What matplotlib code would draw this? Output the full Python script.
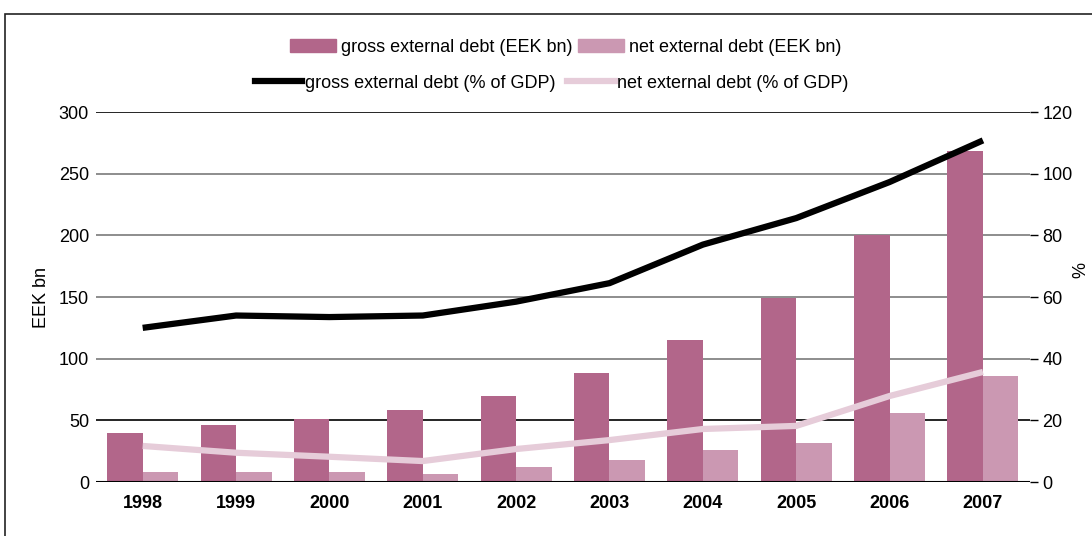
import matplotlib
matplotlib.use('Agg')
import matplotlib.pyplot as plt
import numpy as np
from matplotlib.patches import Patch, Rectangle
from matplotlib.lines import Line2D

plt.rcParams['font.family'] = ['Liberation Sans', 'DejaVu Sans']

years = ['1998', '1999', '2000', '2001', '2002', '2003', '2004', '2005', '2006', '2007']
gross_bn = [40, 46, 51, 58, 70, 88, 115, 149, 200, 268]
net_bn = [8, 8, 8, 6.5, 12, 18, 26, 32, 56, 86]
gross_pct = [50, 54, 53.5, 54, 58.5, 64.5, 77, 85.6, 97.3, 110.8]
net_pct = [11.7, 9.5, 8.2, 6.8, 10.7, 13.6, 17.2, 18.2, 27.9, 35.7]

c_gross = '#B2668A'
c_net = '#CB98B2'
c_net_line = '#E6CCD9'

fig = plt.figure(figsize=(10.92, 5.36), dpi=100)
ax = fig.add_axes([0.0879, 0.1007, 0.855, 0.6903])
ax2 = ax.twinx()

x = np.arange(len(years))
w = 0.38
ax.bar(x - w / 2, gross_bn, w, color=c_gross, zorder=2)
ax.bar(x + w / 2, net_bn, w, color=c_net, zorder=2)

ax2.plot(x, gross_pct, color='black', lw=4.5, solid_capstyle='butt')
ax2.plot(x, net_pct, color=c_net_line, lw=4.5, solid_capstyle='butt')

ax.set_xlim(-0.5, 9.5)
ax.set_ylim(0, 300)
ax2.set_ylim(0, 120)
ax.set_yticks(range(0, 301, 50))
ax2.set_yticks(range(0, 121, 20))
ax.set_xticks(x)
ax.set_xticklabels(years, fontweight='bold', fontsize=13)
ax.tick_params(axis='x', length=0, pad=9)
ax.tick_params(axis='y', length=0, labelsize=13, pad=5)
ax2.tick_params(axis='y', length=6, width=1, labelsize=13, pad=3)

ax.yaxis.grid(True, color='#7a7a7a', lw=1.2, zorder=0)
gl = ax.get_ygridlines()
gl[1].set_color('black')
gl[-1].set_color('black')
ax.set_axisbelow(True)
for a in (ax, ax2):
    for s in a.spines.values():
        s.set_visible(False)
ax.axhline(0, color='black', lw=1.5, zorder=3)

ax.set_ylabel('EEK bn', fontsize=13, labelpad=6)
fig.text(0.99, 0.497, '%', fontsize=13, rotation=90, ha='center', va='center')

h1 = [Patch(color=c_gross), Patch(color=c_net)]
fig.legend(h1, ['gross external debt (EEK bn)', 'net external debt (EEK bn)'],
           loc='center', bbox_to_anchor=(0.518, 0.912), ncol=2, frameon=False,
           fontsize=13, handlelength=2.55, handleheight=0.7, handletextpad=0.28,
           columnspacing=0.28)
h2 = [Line2D([], [], color='black', lw=4.5), Line2D([], [], color=c_net_line, lw=4.5)]
fig.legend(h2, ['gross external debt (% of GDP)', 'net external debt (% of GDP)'],
           loc='center', bbox_to_anchor=(0.505, 0.845), ncol=2, frameon=False,
           fontsize=13, handlelength=2.65, handletextpad=0.12, columnspacing=0.65)

# border of the surrounding box
fig.add_artist(Rectangle((0.005, -0.1), 1.2, 1.074, transform=fig.transFigure,
                         fill=False, edgecolor='#222222', lw=1.2))

fig.savefig('out.png', dpi=100)
